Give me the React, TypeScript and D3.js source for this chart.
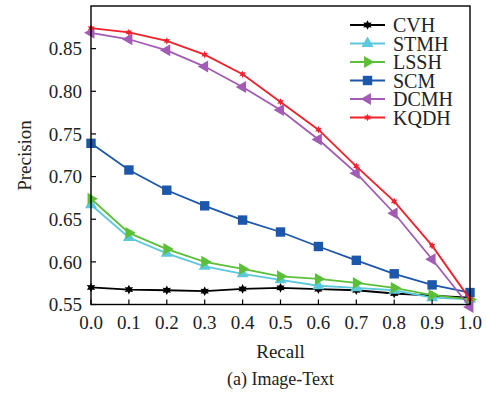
import React from "react";
import * as d3 from "d3";

const recall = [0.0, 0.1, 0.2, 0.3, 0.4, 0.5, 0.6, 0.7, 0.8, 0.9, 1.0];
const cvh = [0.570, 0.5675, 0.5667, 0.5656, 0.5683, 0.5695, 0.568, 0.5667, 0.5629, 0.5605, 0.558];
const stmh = [0.667, 0.6286, 0.610, 0.5947, 0.586, 0.579, 0.572, 0.5695, 0.5667, 0.558, 0.556];
const lssh = [0.674, 0.634, 0.615, 0.600, 0.5917, 0.583, 0.580, 0.5753, 0.5695, 0.561, 0.556];
const scm = [0.739, 0.7077, 0.684, 0.6657, 0.649, 0.635, 0.618, 0.6018, 0.586, 0.573, 0.564];
const dcmh = [0.8686, 0.861, 0.848, 0.829, 0.805, 0.778, 0.7435, 0.704, 0.657, 0.603, 0.547];
const kqdh = [0.874, 0.869, 0.859, 0.843, 0.820, 0.7875, 0.755, 0.712, 0.671, 0.619, 0.556];

const seriesNames = ["CVH", "STMH", "LSSH", "SCM", "DCMH", "KQDH"];
const seriesValues = [cvh, stmh, lssh, scm, dcmh, kqdh];
const seriesColors = ["#000000", "#5cc8dc", "#5cbf3a", "#1d57ac", "#a25cb5", "#f2212b"];
const seriesMarkers = ["star", "up", "right", "square", "left", "smallstar"];

const yTicks = [0.55, 0.6, 0.65, 0.7, 0.75, 0.8, 0.85];
const xTicks = recall;

const FONT = "'Liberation Serif', 'Times New Roman', serif";

function starPath(ro: number, ri: number, n = 6) {
  const pts: [number, number][] = [];
  for (let i = 0; i < n * 2; i++) {
    const r = i % 2 === 0 ? ro : ri;
    const a = (Math.PI * i) / n - Math.PI / 2;
    pts.push([r * Math.cos(a), r * Math.sin(a)]);
  }
  return "M" + pts.map((p) => p.join(",")).join("L") + "Z";
}

function Marker({ kind, color, x, y }: { kind: string; color: string; x: number; y: number }) {
  const tri = d3.symbol().type(d3.symbolTriangle).size(62)();
  if (kind === "star") return <path d={starPath(4.8, 2.6)} transform={`translate(${x},${y})`} fill={color} />;
  if (kind === "smallstar") return <path d={starPath(3.8, 1.9)} transform={`translate(${x},${y})`} fill={color} />;
  if (kind === "square") return <rect x={x - 4.7} y={y - 4.7} width={9.4} height={9.4} fill={color} />;
  const rot = kind === "up" ? 0 : kind === "right" ? 90 : -90;
  return <path d={tri || ""} transform={`translate(${x},${y}) rotate(${rot})`} fill={color} />;
}

export default function App() {
  const x = d3.scaleLinear().domain([0, 1]).range([91, 470]);
  const y = d3.scaleLinear().domain([0.55, 0.9]).range([304.5, 6]);
  const line = d3
    .line<number>()
    .x((_, i) => x(recall[i]))
    .y((d) => y(d));

  const legX0 = 350;
  const legX1 = 385;
  const legY0 = 25;
  const legDy = 18.5;

  return (
    <svg width={486} height={397} style={{ position: "absolute", left: 0, top: 0, background: "#fff" }} fontFamily={FONT}>
      <rect x={0} y={0} width={486} height={397} fill="#fff" />
      {seriesValues.map((vals, si) => (
        <g key={seriesNames[si]}>
          <path d={line(vals) || ""} fill="none" stroke={seriesColors[si]} strokeWidth={1.8} />
          {vals.map((v, i) => (
            <Marker key={i} kind={seriesMarkers[si]} color={seriesColors[si]} x={x(recall[i])} y={y(v)} />
          ))}
        </g>
      ))}
      {/* frame */}
      <rect x={91} y={6} width={379} height={298.5} fill="none" stroke="#000" strokeWidth={1.4} />
      {/* y ticks */}
      {yTicks.map((t) => (
        <g key={t}>
          <line x1={91} x2={96} y1={y(t)} y2={y(t)} stroke="#000" strokeWidth={1.2} />
          <text x={82} y={y(t)} dy="0.35em" textAnchor="end" fontSize={19} fill="#222">
            {d3.format(".2f")(t)}
          </text>
        </g>
      ))}
      {xTicks.map((t) => (
        <g key={t}>
          <line x1={x(t)} x2={x(t)} y1={304.5} y2={299.5} stroke="#000" strokeWidth={1.2} />
          <text x={x(t)} y={329} textAnchor="middle" fontSize={19} fill="#222">
            {d3.format(".1f")(t)}
          </text>
        </g>
      ))}
      <text x={280.5} y={358} textAnchor="middle" fontSize={19} fill="#222">Recall</text>
      <text x={280.5} y={385} textAnchor="middle" fontSize={18} fill="#222">(a) Image-Text</text>
      <text transform="translate(31,155.5) rotate(-90)" textAnchor="middle" fontSize={19} fill="#222">Precision</text>
      {/* legend */}
      {seriesNames.map((name, i) => {
        const ly = legY0 + i * legDy;
        return (
          <g key={name}>
            <line x1={legX0} x2={legX1} y1={ly} y2={ly} stroke={seriesColors[i]} strokeWidth={1.8} />
            <Marker kind={seriesMarkers[i]} color={seriesColors[i]} x={(legX0 + legX1) / 2} y={ly} />
            <text x={393} y={ly} dy="0.35em" fontSize={20} fill="#222">{name}</text>
          </g>
        );
      })}
    </svg>
  );
}
